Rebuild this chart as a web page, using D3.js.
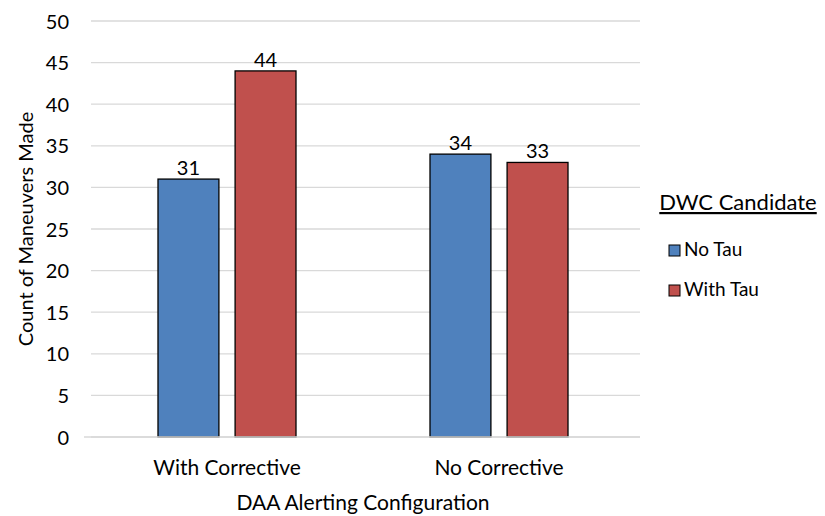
<!DOCTYPE html>
<html>
<head>
<meta charset="utf-8">
<script src="https://cdn.jsdelivr.net/npm/d3@7"></script>
<style>
  body { margin: 0; background: #fff; }
  text { font-family: Lato, "Open Sans", sans-serif; fill: #000; }
</style>
</head>
<body>
<div id="chart"></div>
<script>
var categories = ['With Corrective', 'No Corrective'];
var seriesNames = ['No Tau', 'With Tau'];
var noTau = [31, 34];
var withTau = [44, 33];
var yTicks = [0, 5, 10, 15, 20, 25, 30, 35, 40, 45, 50];
var colors = ['#4F81BD', '#C0504D'];

var width = 825, height = 516;
var margin = { top: 21, right: 190, bottom: 79, left: 91 };

var svg = d3.select('#chart').append('svg')
  .attr('width', width).attr('height', height);

var x = d3.scaleBand().domain(categories)
  .range([margin.left, width - margin.right]);
var inner = d3.scaleBand().domain(seriesNames)
  .range([x.bandwidth() / 2 - 69, x.bandwidth() / 2 + 69])
  .paddingInner(0.21);
var y = d3.scaleLinear().domain([0, 50])
  .range([height - margin.bottom, margin.top]);

// grid
svg.append('g').selectAll('line').data(yTicks).join('line')
  .attr('x1', margin.left).attr('x2', width - margin.right + 5)
  .attr('y1', function (d) { return y(d); })
  .attr('y2', function (d) { return y(d); })
  .attr('stroke', '#d9d9d9').attr('stroke-width', 1.3);

// y axis labels
var yAxis = svg.append('g')
  .attr('transform', 'translate(' + (margin.left - 22) + ',0)')
  .call(d3.axisLeft(y).tickValues(yTicks).tickSize(0).tickPadding(0));
yAxis.select('.domain').remove();
yAxis.selectAll('text').style('font-size', '20px').attr('dy', '0.35em');

var data = categories.map(function (c, i) {
  return { cat: c, values: [
    { name: seriesNames[0], v: noTau[i] },
    { name: seriesNames[1], v: withTau[i] }
  ] };
});

var groups = svg.append('g').selectAll('g').data(data).join('g')
  .attr('transform', function (d) { return 'translate(' + x(d.cat) + ',0)'; });

groups.selectAll('rect').data(function (d) { return d.values; }).join('rect')
  .attr('x', function (d) { return inner(d.name); })
  .attr('width', inner.bandwidth())
  .attr('y', function (d) { return y(d.v); })
  .attr('height', function (d) { return y(0) - y(d.v); })
  .attr('fill', function (d, i) { return colors[i]; })
  .attr('stroke', '#000').attr('stroke-width', 1.3);

groups.selectAll('text.lbl').data(function (d) { return d.values; }).join('text')
  .attr('class', 'lbl')
  .attr('x', function (d) { return inner(d.name) + inner.bandwidth() / 2; })
  .attr('y', function (d) { return y(d.v) - 4; })
  .attr('text-anchor', 'middle')
  .style('font-size', '20px')
  .text(function (d) { return d.v; });

// baseline
svg.append('line')
  .attr('x1', margin.left - 7).attr('x2', width - margin.right + 5)
  .attr('y1', y(0)).attr('y2', y(0))
  .attr('stroke', '#d9d9d9').attr('stroke-width', 1.3);

// x axis labels
var xAxis = svg.append('g')
  .attr('transform', 'translate(0,' + (y(0) + 38) + ')')
  .call(d3.axisBottom(x).tickSize(0).tickPadding(0));
xAxis.select('.domain').remove();
xAxis.selectAll('text').style('font-size', '21px').attr('dy', '0');

svg.append('text')
  .attr('x', (margin.left + width - margin.right) / 2).attr('y', 510)
  .attr('text-anchor', 'middle').style('font-size', '21px')
  .text('DAA Alerting Configuration');

svg.append('text')
  .attr('transform', 'translate(33,' + 229 + ') rotate(-90)')
  .attr('text-anchor', 'middle').style('font-size', '20px')
  .text('Count of Maneuvers Made');

// legend
var legend = svg.append('g').attr('transform', 'translate(660,0)');
legend.append('text').attr('x', 78).attr('y', 210)
  .attr('text-anchor', 'middle').style('font-size', '22px')
  .style('text-decoration', 'underline')
  .text('DWC Candidate');
legend.selectAll('rect').data(seriesNames).join('rect')
  .attr('x', 9).attr('y', function (d, i) { return 245 + i * 40; })
  .attr('width', 11).attr('height', 11)
  .attr('fill', function (d, i) { return colors[i]; })
  .attr('stroke', '#000').attr('stroke-width', 1);
legend.selectAll('text.item').data(seriesNames).join('text')
  .attr('class', 'item')
  .attr('x', 24).attr('y', function (d, i) { return 256 + i * 40; })
  .style('font-size', '19px')
  .text(function (d) { return d; });
</script>
</body>
</html>
